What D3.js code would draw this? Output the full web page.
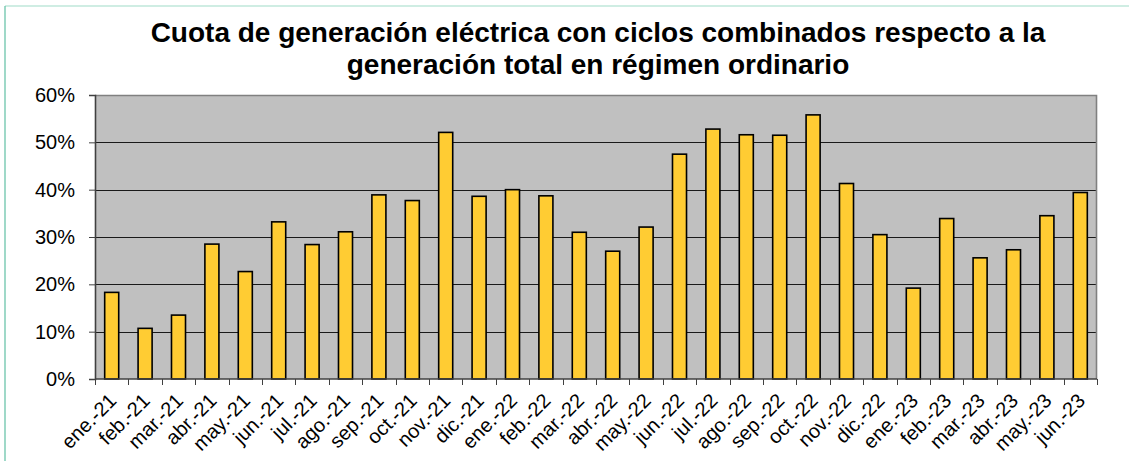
<!DOCTYPE html>
<html>
<head>
<meta charset="utf-8">
<script src="https://cdn.jsdelivr.net/npm/d3@7"></script>
<style>
  body { margin: 0; background: #fff; }
  svg { display: block; font-family: "Liberation Sans", Arimo, sans-serif; }
</style>
</head>
<body>
<div id="chart"></div>
<script>
(function() {
  "use strict";

  var WIDTH = 1129, HEIGHT = 461;
  var FONT = '"Liberation Sans", Arimo, sans-serif';

  // Months shown on the x axis
  var months = [
    'ene.-21', 'feb.-21', 'mar.-21', 'abr.-21', 'may.-21', 'jun.-21',
    'jul.-21', 'ago.-21', 'sep.-21', 'oct.-21', 'nov.-21', 'dic.-21',
    'ene.-22', 'feb.-22', 'mar.-22', 'abr.-22', 'may.-22', 'jun.-22',
    'jul.-22', 'ago.-22', 'sep.-22', 'oct.-22', 'nov.-22', 'dic.-22',
    'ene.-23', 'feb.-23', 'mar.-23', 'abr.-23', 'may.-23', 'jun.-23'
  ];

  // Combined-cycle share of ordinary-regime generation (%)
  var shares = [
    18.3, 10.7, 13.5, 28.5, 22.7, 33.2,
    28.4, 31.1, 38.9, 37.7, 52.1, 38.6,
    40.0, 38.7, 31.0, 27.0, 32.1, 47.5,
    52.8, 51.6, 51.5, 55.8, 41.3, 30.5,
    19.2, 33.9, 25.6, 27.3, 34.5, 39.4
  ];

  var yTicks = [0, 10, 20, 30, 40, 50, 60];

  var titleLines = [
    'Cuota de generación eléctrica con ciclos combinados respecto a la',
    'generación total en régimen ordinario'
  ];

  var margin = { top: 95, right: 32, bottom: 82, left: 95 };
  var plotW = WIDTH - margin.left - margin.right;
  var plotH = HEIGHT - margin.top - margin.bottom;

  var svg = d3.select('#chart')
      .append('svg')
      .attr('width', WIDTH)
      .attr('height', HEIGHT);

  // Outer frame (only left and top edges are visible in the original)
  svg.append('line')
      .attr('x1', 5).attr('y1', 6).attr('x2', WIDTH).attr('y2', 6)
      .attr('stroke', '#9fdcc8').attr('stroke-width', 1.2);
  svg.append('line')
      .attr('x1', 5).attr('y1', 6).attr('x2', 5).attr('y2', HEIGHT)
      .attr('stroke', '#5fbfa3').attr('stroke-width', 1.2);

  // Title
  svg.append('g')
      .selectAll('text')
      .data(titleLines)
      .enter().append('text')
      .attr('x', 598)
      .attr('y', function(d, i) { return 42 + i * 32; })
      .attr('text-anchor', 'middle')
      .style('font-family', FONT)
      .style('font-size', '28px')
      .style('font-weight', 'bold')
      .attr('fill', '#000')
      .text(function(d) { return d; });

  var g = svg.append('g')
      .attr('transform', 'translate(' + margin.left + ',' + margin.top + ')');

  var x = d3.scaleBand()
      .domain(months)
      .range([0, plotW])
      .paddingInner(0.58)
      .paddingOuter(0.29);

  var y = d3.scaleLinear()
      .domain([0, 60])
      .range([plotH, 0]);

  // Plot background
  g.append('rect')
      .attr('width', plotW)
      .attr('height', plotH)
      .attr('fill', '#c0c0c0');

  // Horizontal grid lines
  g.append('g')
      .selectAll('line')
      .data(yTicks.filter(function(t) { return t > 0 && t < 60; }))
      .enter().append('line')
      .attr('x1', 0).attr('x2', plotW)
      .attr('y1', function(d) { return Math.round(y(d)) + 0.5; })
      .attr('y2', function(d) { return Math.round(y(d)) + 0.5; })
      .attr('stroke', '#1a1a1a')
      .attr('stroke-width', 1.2);

  // Top and right border of plot area
  g.append('path')
      .attr('d', 'M0,0.5H' + (plotW - 0.5) + 'V' + plotH)
      .attr('fill', 'none')
      .attr('stroke', '#808080')
      .attr('stroke-width', 1.6);

  // Bars
  g.append('g')
      .selectAll('rect')
      .data(shares)
      .enter().append('rect')
      .attr('x', function(d, i) { return x(months[i]); })
      .attr('y', function(d) { return y(d); })
      .attr('width', x.bandwidth())
      .attr('height', function(d) { return plotH - y(d); })
      .attr('fill', '#ffcc33')
      .attr('stroke', '#000')
      .attr('stroke-width', 1.6);

  // Y axis
  var yAxis = d3.axisLeft(y)
      .tickValues(yTicks)
      .tickSize(6)
      .tickPadding(14)
      .tickFormat(function(d) { return d + '%'; });

  var yG = g.append('g').call(yAxis);
  yG.select('.domain').attr('stroke', '#404040').attr('stroke-width', 1.6);
  yG.selectAll('.tick line').attr('stroke', '#404040');
  yG.selectAll('.tick text')
      .style('font-size', '20px')
      .style('font-family', FONT)
      .attr('fill', '#000');

  // X axis: tick marks sit on the band boundaries
  var step = x.step();
  var xAxisG = g.append('g')
      .attr('transform', 'translate(0,' + plotH + ')');

  xAxisG.append('line')
      .attr('x1', 0).attr('x2', plotW)
      .attr('y1', 0).attr('y2', 0)
      .attr('stroke', '#404040')
      .attr('stroke-width', 1.6);

  xAxisG.selectAll('line.tick')
      .data(d3.range(months.length + 1))
      .enter().append('line')
      .attr('class', 'tick')
      .attr('x1', function(i) { return Math.round(i * step) + 0.5; })
      .attr('x2', function(i) { return Math.round(i * step) + 0.5; })
      .attr('y1', 0).attr('y2', 6)
      .attr('stroke', '#404040');

  xAxisG.selectAll('text')
      .data(months)
      .enter().append('text')
      .attr('transform', function(d) {
        var cx = x(d) + x.bandwidth() / 2 + 1;
        return 'translate(' + cx + ',18) rotate(-45)';
      })
      .attr('text-anchor', 'end')
      .attr('dy', '0.35em')
      .style('font-family', FONT)
      .style('font-size', '20px')
      .attr('fill', '#000')
      .text(function(d) { return d; });
})();
</script>
</body>
</html>
